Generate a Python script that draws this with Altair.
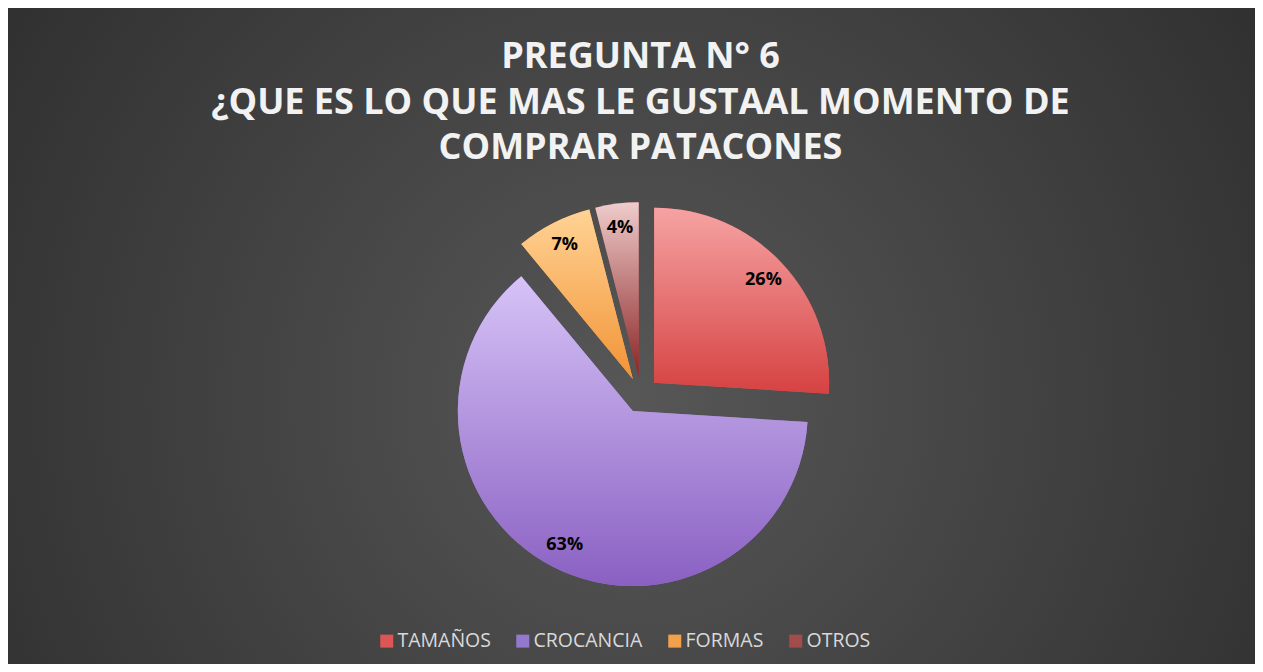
import altair as alt
import pandas as pd

# ---- data ----
categorias = ["TAMAÑOS", "CROCANCIA", "FORMAS", "OTROS"]
porcentajes = [26, 63, 7, 4]
colores_leyenda = ["#dc5656", "#9279cc", "#f3a04a", "#a34c4c"]
degradado_arriba = ["#f6a3a3", "#d6c3f7", "#ffd395", "#efcccc"]
degradado_abajo = ["#d64242", "#8a60c2", "#f29436", "#8a2424"]
titulo = ["PREGUNTA N° 6", "¿QUE ES LO QUE MAS LE GUSTAAL MOMENTO DE", "COMPRAR PATACONES"]

# ---- layout ----
W, H = 1247, 656
CX, CY = 633, 387
R = 175
EXPLOTE = 18
R_ETIQUETA = 150

df = pd.DataFrame({"categoria": categorias, "valor": porcentajes,
                   "orden": list(range(len(categorias)))})

base = (
    alt.Chart(df)
    .transform_joinaggregate(total="sum(valor)")
    .transform_window(acum="sum(valor)", sort=[alt.SortField("orden")], frame=[None, 0])
    .transform_calculate(t0="2*PI*(datum.acum - datum.valor)/datum.total")
    .transform_calculate(t1="2*PI*datum.acum/datum.total")
    .transform_calculate(tm="(datum.t0 + datum.t1)/2")
    .transform_calculate(px=f"{CX} + {EXPLOTE}*sin(datum.tm)")
    .transform_calculate(py=f"{CY} - {EXPLOTE}*cos(datum.tm)")
    .transform_calculate(etiqueta="datum.valor + '%'")
)

fondo = alt.Chart(pd.DataFrame({"a": [0]})).mark_rect(
    fill=alt.RadialGradient(
        gradient="radial", x1=0.5, y1=0.55, r1=0, x2=0.5, y2=0.55, r2=0.75,
        stops=[alt.GradientStop(offset=0, color="#575757"),
               alt.GradientStop(offset=1, color="#262626")],
    )
).encode(x=alt.value(0), x2=alt.value(W), y=alt.value(0), y2=alt.value(H))

enc_arco = dict(
    theta=alt.Theta("t0:Q", scale=None),
    theta2=alt.Theta2("t1:Q"),
    x=alt.X("px:Q", scale=None),
    y=alt.Y("py:Q", scale=None),
)

capa_leyenda = base.mark_arc(radius=R).encode(
    color=alt.Color(
        "categoria:N",
        scale=alt.Scale(domain=categorias, range=colores_leyenda),
        legend=alt.Legend(
            orient="none", legendX=369, legendY=623, direction="horizontal",
            title=None, symbolType="square", symbolSize=169, symbolStrokeWidth=0,
            symbolOpacity=1, labelFont="Open Sans", labelFontSize=19.5,
            labelColor="#d9d9d9", columnPadding=22, labelOffset=1,
        ),
    ),
    **enc_arco,
)

capas_degradado = []
for cat, c1, c2 in zip(categorias, degradado_arriba, degradado_abajo):
    capas_degradado.append(
        base.transform_filter(alt.datum.categoria == cat)
        .mark_arc(
            radius=R,
            fill=alt.LinearGradient(
                gradient="linear", x1=0, y1=0, x2=0, y2=1,
                stops=[alt.GradientStop(offset=0, color=c1),
                       alt.GradientStop(offset=1, color=c2)],
            ),
        )
        .encode(**enc_arco)
    )

textos = base.mark_text(
    radius=R_ETIQUETA, font="Open Sans", fontWeight="bold", fontSize=18, color="#000000"
).encode(
    theta=alt.Theta("tm:Q", scale=None),
    x=alt.X("px:Q", scale=None),
    y=alt.Y("py:Q", scale=None),
    text="etiqueta:N",
)

chart = (
    alt.layer(fondo, capa_leyenda, *capas_degradado, textos)
    .properties(
        width=W, height=H, padding=0, background="#2b2b2b",
        autosize=alt.AutoSizeParams(type="none"),
        title=alt.TitleParams(
            text=titulo, font="Open Sans", fontSize=36, fontWeight="bold",
            color="#f2f2f2", lineHeight=45.5, anchor="middle", baseline="top",
            offset=0, dx=9, dy=159,
        ),
    )
    .configure_view(stroke=None)
)

chart.save("out.html", embed_options={"renderer": "svg", "actions": False})
